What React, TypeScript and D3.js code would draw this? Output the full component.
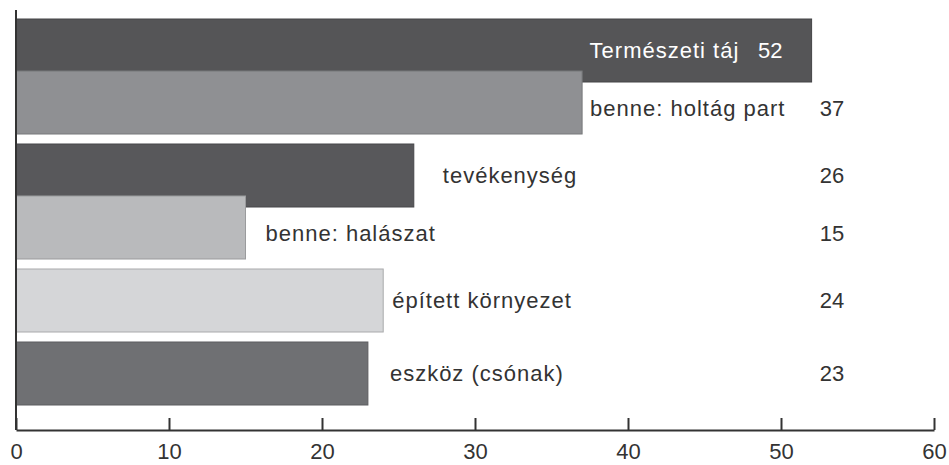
import React, { useEffect, useRef } from "react";
import * as d3 from "d3";

const categories = [
  "Természeti táj",
  "benne: holtág part",
  "tevékenység",
  "benne: halászat",
  "épített környezet",
  "eszköz (csónak)",
];
const values = [52, 37, 26, 15, 24, 23];
// "benne" rows are subsets of the row above and overlap it
const isSub = [false, true, false, true, false, false];
const tickValues = [0, 10, 20, 30, 40, 50, 60];

const fills = ["#555557", "#8f9093", "#58585b", "#b9babc", "#d5d6d8", "#6f7073"];
const strokes = ["#444446", "#77787b", "#47474a", "#9a9b9d", "#a9aaac", "#5c5d60"];
// gap between bar end and its label (negative = inside the bar)
const labelDx = [-222, 8, 29, 20, 9, 22];

const W = 949, H = 465;

export default function App() {
  const ref = useRef<SVGSVGElement>(null);

  useEffect(() => {
    const svg = d3.select(ref.current);
    svg.selectAll("*").remove();

    const axisY = 430,
      barH = 63,
      step = 73,
      subStep = 52,
      top = 19,
      valueX = 832;

    const x = d3.scaleLinear().domain([0, 60]).range([16, 934]);

    const tops: number[] = [];
    values.forEach((v, i) => {
      if (i === 0) tops.push(top);
      else tops.push(tops[i - 1] + (isSub[i] ? subStep : step));
    });

    const g = svg.append("g").attr("font-family", "'Liberation Sans', Arial, sans-serif");

    // bars
    g.selectAll("rect.bar")
      .data(values)
      .join("rect")
      .attr("class", "bar")
      .attr("x", x(0))
      .attr("y", (d, i) => tops[i])
      .attr("width", d => x(d) - x(0))
      .attr("height", barH)
      .attr("fill", (d, i) => fills[i])
      .attr("stroke", (d, i) => strokes[i])
      .attr("stroke-width", 1);

    // labels, centred on the visible part of each bar
    values.forEach((v, i) => {
      const vTop = isSub[i] ? tops[i - 1] + barH : tops[i];
      const yMid = (vTop + tops[i] + barH) / 2;
      const inside = labelDx[i] < 0;
      const color = inside ? "#ffffff" : "#333333";

      g.append("text")
        .attr("x", x(v) + labelDx[i])
        .attr("y", yMid)
        .attr("dy", "0.35em")
        .attr("font-size", 22)
        .attr("letter-spacing", 1)
        .attr("fill", color)
        .text(categories[i]);

      g.append("text")
        .attr("x", inside ? x(v) - 29 : valueX)
        .attr("y", yMid)
        .attr("dy", "0.35em")
        .attr("font-size", 22)
        .attr("text-anchor", inside ? "end" : "middle")
        .attr("fill", color)
        .text(v);
    });

    // y axis line
    g.append("line")
      .attr("x1", x(0)).attr("x2", x(0))
      .attr("y1", 10).attr("y2", axisY)
      .attr("stroke", "#333").attr("stroke-width", 2);

    // x axis
    const ax = g.append("g")
      .attr("transform", `translate(0,${axisY})`)
      .call(d3.axisBottom(x).tickValues(tickValues).tickSizeInner(-12).tickSizeOuter(0).tickPadding(13));
    ax.select(".domain").attr("stroke", "#333").attr("stroke-width", 2);
    ax.selectAll(".tick line").attr("stroke", "#333").attr("stroke-width", 2);
    ax.selectAll(".tick text")
      .attr("font-size", 22)
      .attr("font-family", "'Liberation Sans', Arial, sans-serif")
      .attr("fill", "#333");
  }, []);

  return (
    <svg
      ref={ref}
      width={W}
      height={H}
      style={{ position: "absolute", left: 0, top: 0, background: "#fff", display: "block" }}
    />
  );
}
